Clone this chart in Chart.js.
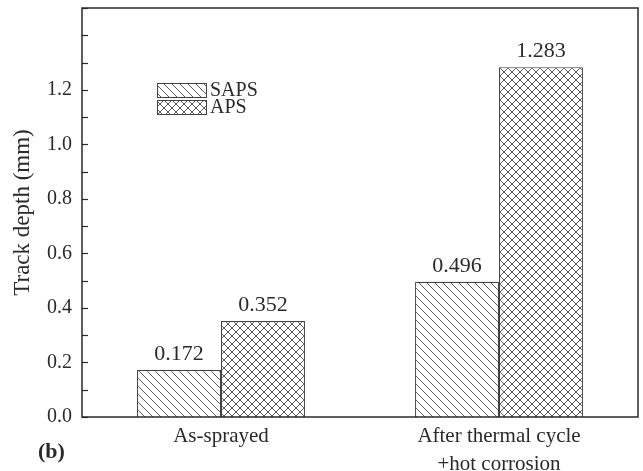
<!DOCTYPE html>
<html>
<head>
<meta charset="utf-8">
<script src="https://cdn.jsdelivr.net/npm/chart.js@4/dist/chart.umd.min.js"></script>
<style>
  html, body { margin: 0; padding: 0; background: #fff; }
  #wrap { width: 643px; height: 471px; }
</style>
</head>
<body>
<div id="wrap"><canvas id="depthChart" width="643" height="471"></canvas></div>
<script>
const categories = ["As-sprayed", ["After thermal cycle", "+hot corrosion"]];
const sapsDepth = [0.172, 0.496];
const apsDepth = [0.352, 1.283];
const seriesNames = ["SAPS", "APS"];

const FONT = "'Liberation Serif', 'Times New Roman', serif";
const INK = "#2a2a2a";
const HATCH = "#5a5a5a";

// tile patterns: single diagonal for SAPS, cross for APS
function hatchPattern(size, cross) {
    const c = document.createElement("canvas");
    c.width = size;
    c.height = size;
    const g = c.getContext("2d");
    g.fillStyle = "#fff";
    g.fillRect(0, 0, size, size);
    g.strokeStyle = HATCH;
    g.lineWidth = 1;
    const seg = (x1, y1, x2, y2) => {
        g.beginPath();
        g.moveTo(x1, y1);
        g.lineTo(x2, y2);
        g.stroke();
    };
    seg(-1, -1, size + 1, size + 1);
    seg(-1, size - 1, 1, size + 1);
    seg(size - 1, -1, size + 1, 1);
    if (cross) {
        seg(-1, size + 1, size + 1, -1);
        seg(-1, 1, 1, -1);
        seg(size - 1, size + 1, size + 1, size - 1);
    }
    return g.createPattern(c, "repeat");
}

const framePlugin = {
    id: "frame",
    afterDraw(chart) {
        const { ctx, chartArea: a, scales } = chart;
        ctx.save();
        // inward ticks on the left axis
        ctx.strokeStyle = INK;
        ctx.lineWidth = 1.2;
        scales.y.ticks.forEach((t) => {
            const y = Math.round(scales.y.getPixelForValue(t.value)) + 0.5;
            ctx.beginPath();
            ctx.moveTo(a.left, y);
            ctx.lineTo(a.left + 6, y);
            ctx.stroke();
        });
        ctx.lineWidth = 1.5;
        ctx.strokeRect(a.left, a.top, a.right - a.left, a.bottom - a.top);

        // value labels above each bar
        ctx.fillStyle = INK;
        ctx.font = "22px " + FONT;
        ctx.textAlign = "center";
        ctx.textBaseline = "bottom";
        chart.data.datasets.forEach((ds, i) => {
            chart.getDatasetMeta(i).data.forEach((bar, j) => {
                ctx.fillText(ds.data[j].toFixed(3), bar.x, bar.y - 5);
            });
        });

        // legend inside the plot
        const lx = a.left + 75;
        let ly = a.top + 75;
        ctx.font = "20px " + FONT;
        ctx.textAlign = "left";
        ctx.textBaseline = "middle";
        chart.data.datasets.forEach((ds) => {
            ctx.fillStyle = ds.backgroundColor;
            ctx.fillRect(lx, ly, 49, 14);
            ctx.strokeStyle = "#444";
            ctx.lineWidth = 1;
            ctx.strokeRect(lx + 0.5, ly + 0.5, 49, 14);
            ctx.fillStyle = INK;
            ctx.fillText(ds.label, lx + 53, ly + 8);
            ly += 17;
        });

        // panel tag
        ctx.font = "bold 22px " + FONT;
        ctx.textAlign = "left";
        ctx.fillText("(b)", 38, 452);
        ctx.restore();
    },
};

const ctx = document.getElementById("depthChart").getContext("2d");
new Chart(ctx, {
    type: "bar",
    data: {
        labels: categories,
        datasets: [
            {
                label: seriesNames[0],
                data: sapsDepth,
                backgroundColor: hatchPattern(8, false),
                borderColor: "#444",
                borderWidth: 1.2,
            },
            {
                label: seriesNames[1],
                data: apsDepth,
                backgroundColor: hatchPattern(8, true),
                borderColor: "#444",
                borderWidth: 1.2,
            },
        ],
    },
    options: {
        responsive: false,
        animation: false,
        layout: { padding: { top: 8, right: 5, left: 0, bottom: 0 } },
        datasets: {
            bar: { barPercentage: 1, categoryPercentage: 0.604 },
        },
        plugins: {
            legend: { display: false },
            tooltip: { enabled: false },
        },
        scales: {
            x: {
                grid: { display: false, drawTicks: false },
                border: { display: false },
                ticks: {
                    padding: 6,
                    color: INK,
                    maxRotation: 0,
                    font: { family: FONT, size: 21, lineHeight: 1.33 },
                },
                afterFit(scale) {
                    scale.height = 54;
                    scale.paddingLeft = 0;
                    scale.paddingRight = 0;
                },
            },
            y: {
                min: 0,
                max: 1.5,
                grid: { display: false, drawTicks: false },
                border: { display: false },
                ticks: {
                    stepSize: 0.1,
                    autoSkip: false,
                    padding: 10,
                    color: INK,
                    font: { family: FONT, size: 20 },
                    callback: (v) => {
                        const k = Math.round(v * 10);
                        return k % 2 === 0 && k <= 12 ? (k / 10).toFixed(1) : "";
                    },
                },
                title: {
                    display: true,
                    text: "Track depth (mm)",
                    color: INK,
                    padding: { top: 9, bottom: 0 },
                    font: { family: FONT, size: 23 },
                },
                afterFit(scale) {
                    scale.width = 82;
                    scale.paddingTop = 0;
                    scale.paddingBottom = 0;
                },
            },
        },
    },
    plugins: [framePlugin],
});
</script>
</body>
</html>
